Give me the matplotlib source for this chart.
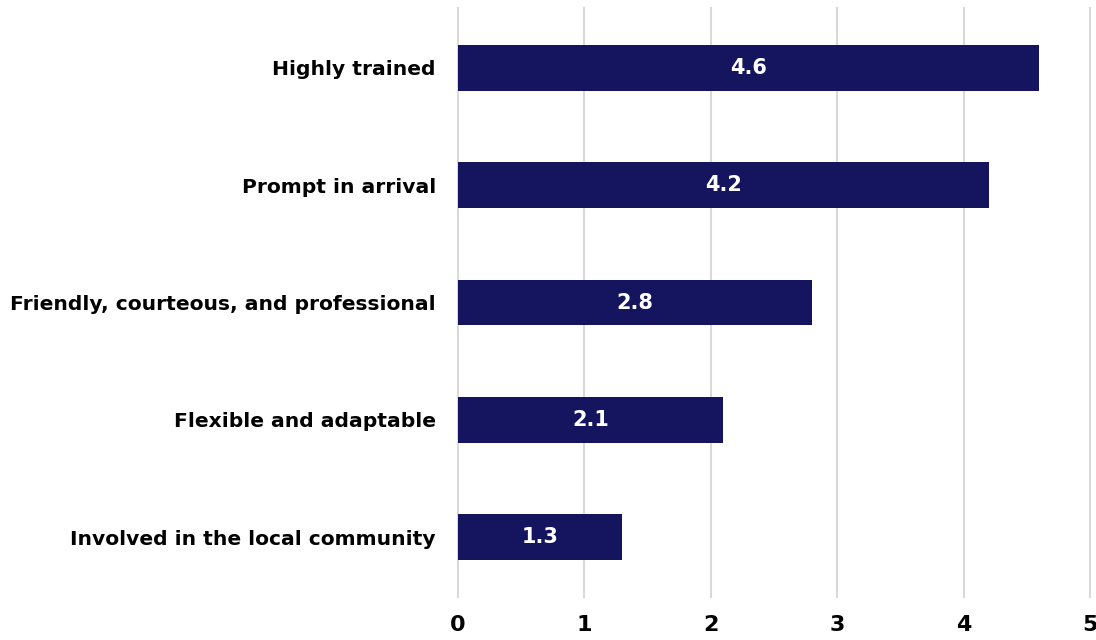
import numpy as np
import matplotlib.pyplot as plt

# ratings per attribute, listed bottom to top
categories = [
    "Involved in the local community",
    "Flexible and adaptable",
    "Friendly, courteous, and professional",
    "Prompt in arrival",
    "Highly trained",
]
scores = [1.3, 2.1, 2.8, 4.2, 4.6]
xticks = [0, 1, 2, 3, 4, 5]

bar_color = "#15145F"
grid_color = "#D9D9D9"

plt.rcParams["font.family"] = ["DejaVu Sans"]
plt.rcParams["font.weight"] = "bold"

fig = plt.figure(figsize=(10.96, 6.4), dpi=100)
ax = fig.add_axes([0.4179, 0.067, 0.5766, 0.9205])

y = np.arange(len(categories))
bars = ax.barh(y, scores, height=0.39, color=bar_color, zorder=3)

for yi, v in zip(y, scores):
    ax.text(v / 2, yi, f"{v:.1f}", color="white", ha="center", va="center",
            fontsize=15, fontweight="bold", zorder=4)

ax.set_xlim(0, 5)
ax.set_ylim(-0.51, len(categories) - 0.49)
ax.set_xticks(xticks)
ax.set_yticks(y)
ax.set_yticklabels(categories)
ax.tick_params(axis="y", length=0, pad=16, labelsize=14.6)
ax.tick_params(axis="x", length=0, pad=13, labelsize=16)
ax.xaxis.grid(True, color=grid_color, linewidth=1.5, zorder=0)
for gl in ax.get_xgridlines():
    gl.set_clip_on(False)
for s in ax.spines.values():
    s.set_visible(False)

fig.savefig("out.png", dpi=100)
